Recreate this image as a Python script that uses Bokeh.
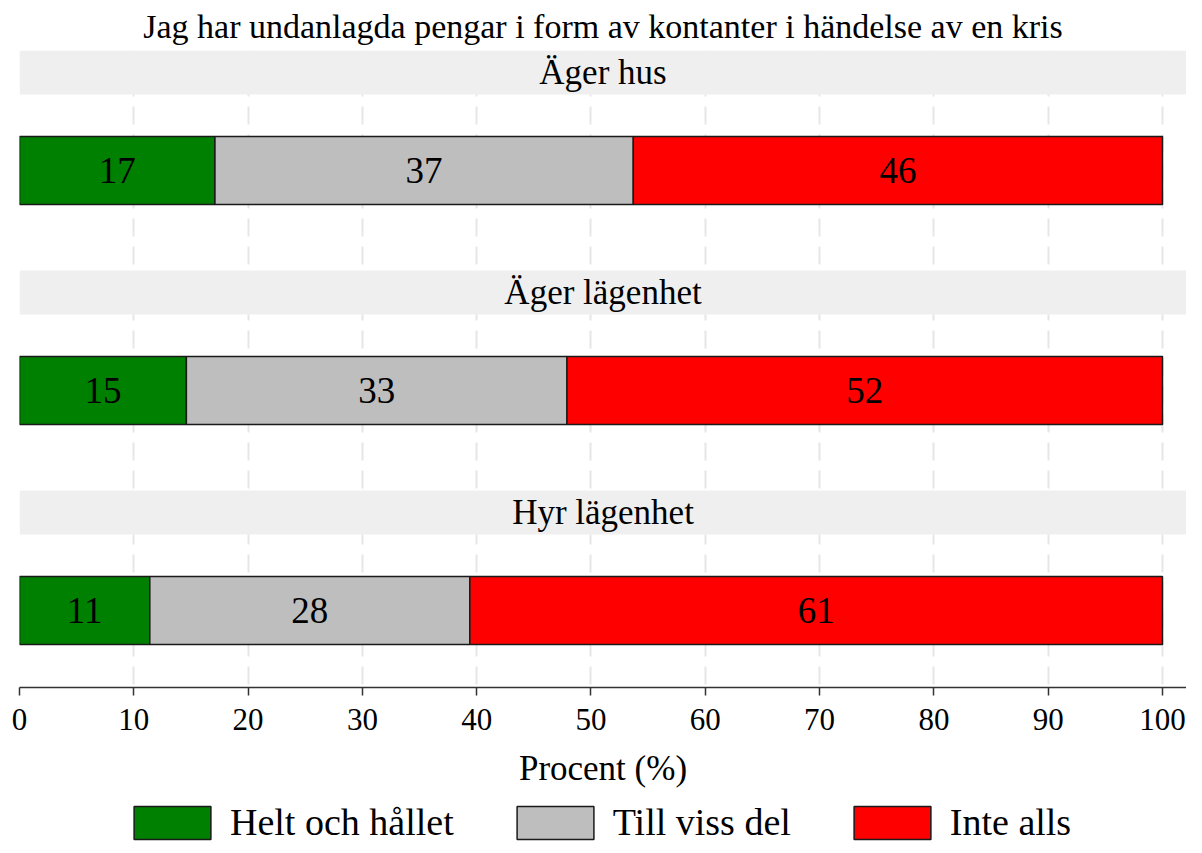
from bokeh.plotting import figure
from bokeh.layouts import column
from bokeh.models import Range1d, ColumnDataSource, FixedTicker, Legend, LegendItem
from bokeh.core.properties import value
from bokeh.embed import file_html
from bokeh.resources import INLINE

# ---- data ----
title_text = "Jag har undanlagda pengar i form av kontanter i händelse av en kris"
groups = ["Äger hus", "Äger lägenhet", "Hyr lägenhet"]
responses = ["Helt och hållet", "Till viss del", "Inte alls"]
helt = [17.1, 14.6, 11.4]
viss = [36.6, 33.3, 28.0]
inte = [46.3, 52.1, 60.6]
x_ticks = [0, 10, 20, 30, 40, 50, 60, 70, 80, 90, 100]
x_label = "Procent (%)"

colors = ["#008000", "#bebebe", "#ff0000"]
FONT = "Liberation Serif"

# ---- geometry (layout only) ----
n = len(groups)
strip_c = [0.1 + k for k in range(n)]
bar_c = [0.5455 + k for k in range(n)]
bar_h = 0.309
strip_h = 0.2
x_end = 102.1

p = figure(frame_width=1167, frame_height=637, output_backend="svg", toolbar_location=None,
           x_range=Range1d(0, x_end), y_range=Range1d(2.8955, 0),
           min_border_left=19, min_border_right=0, min_border_bottom=0, min_border_top=0)
p.outline_line_color = None
p.background_fill_color = "white"
p.border_fill_color = "white"

p.title.text = title_text
p.title.align = "center"
p.title.text_font = FONT
p.title.text_font_size = "34px"
p.title.text_font_style = "normal"
p.title.text_color = "black"
p.title.standoff = 11

# strips
p.rect(x=[x_end / 2] * n, y=strip_c, width=x_end, height=strip_h,
       fill_color="#efefef", line_color=None)
p.text(x=[x_end / 2] * n, y=strip_c, text=groups, text_font=value(FONT),
       text_font_size="35px", text_align="center", text_baseline="middle",
       text_color="black")

# stacked bars
series = [helt, viss, inte]
left = [0.0] * n
for vals, col, name in zip(series, colors, responses):
    right = [l + v for l, v in zip(left, vals)]
    src = ColumnDataSource(dict(y=bar_c, left=left, right=right,
                                mid=[(l + r) / 2 for l, r in zip(left, right)],
                                lab=[f"{v:.0f}" for v in vals]))
    p.hbar(y="y", left="left", right="right", height=bar_h, source=src,
           fill_color=col, line_color="#1a1a1a", line_width=1.5)
    p.text(x="mid", y="y", text="lab", source=src, text_font=value(FONT),
           text_font_size="37px", text_align="center", text_baseline="middle",
           text_color="black")
    left = right

# axes and grid
p.yaxis.visible = False
p.ygrid.visible = False
p.xgrid.ticker = FixedTicker(ticks=x_ticks)
p.xgrid.grid_line_color = "#e6e6e6"
p.xgrid.grid_line_width = 2
p.xgrid.grid_line_dash = "18 10"

ax = p.xaxis[0]
ax.ticker = FixedTicker(ticks=x_ticks)
ax.axis_label = x_label
ax.axis_label_text_font = FONT
ax.axis_label_text_font_size = "35px"
ax.axis_label_text_font_style = "normal"
ax.axis_label_text_color = "black"
ax.axis_label_standoff = 16
ax.major_label_text_font = FONT
ax.major_label_text_font_size = "31px"
ax.major_label_text_color = "black"
ax.major_label_standoff = 13
ax.major_tick_out = 8
ax.major_tick_in = 0
ax.minor_tick_line_color = None
ax.axis_line_color = "#333333"
ax.axis_line_width = 1.5
ax.major_tick_line_color = "#333333"
ax.major_tick_line_width = 1.5

# ---- legend strip (separate small figure) ----
leg = figure(width=1186, height=54, output_backend="svg", toolbar_location=None,
             x_range=Range1d(0, 1), y_range=Range1d(0, 1),
             x_axis_location=None, y_axis_location=None, min_border=0)
leg.outline_line_color = None
leg.grid.visible = False
leg.background_fill_color = "white"
leg.border_fill_color = "white"
items = []
for col, name in zip(colors, responses):
    # zero-size swatch carriers, placed outside the visible x range
    r = leg.hbar(y=[0.5], left=[2.0], right=[2.0], height=0.0,
                 fill_color=col, line_color="#1a1a1a", line_width=1.5)
    items.append(LegendItem(label=name, renderers=[r]))
legend = Legend(items=items, orientation="horizontal", location=(105, 0))
legend.glyph_width = 96
legend.glyph_height = 41
legend.label_text_font = FONT
legend.label_text_font_size = "38px"
legend.label_text_color = "black"
legend.label_standoff = 10
legend.spacing = 53
legend.border_line_alpha = 0
legend.background_fill_alpha = 0
legend.margin = 0
legend.padding = 0
leg.add_layout(legend, "center")

open("out.html", "w").write(file_html(column(p, leg), INLINE))
